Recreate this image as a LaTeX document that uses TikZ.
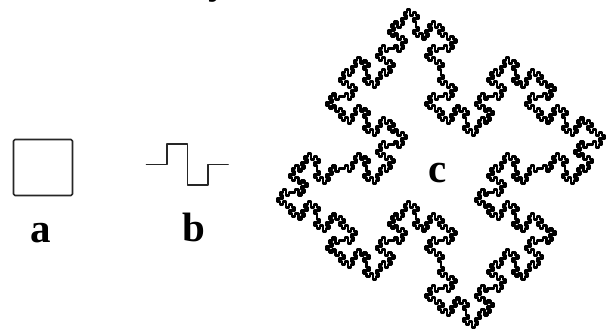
\documentclass[tikz,border=0pt]{standalone}
\usepackage{fontspec}
\setmainfont{Liberation Serif}
\newcount\mkturtx
\newcount\mkturty
\newcount\mkturtd
\newdimen\mkunitx
\newdimen\mkunity
\mkunitx=3.10pt
\mkunity=3.00pt
\def\mkL{\advance\mkturtd 1 \ifnum\mkturtd>3 \advance\mkturtd -4 \fi}
\def\mkR{\advance\mkturtd -1 \ifnum\mkturtd<0 \advance\mkturtd 4 \fi}
\def\mkstep{%
  \ifcase\mkturtd \advance\mkturtx 1 \or \advance\mkturty 1 \or \advance\mkturtx -1 \or \advance\mkturty -1 \fi
  \pgfpathlineto{\pgfpoint{\mkturtx\mkunitx}{\mkturty\mkunity}}}
\def\mkFrule#1{\mkF{#1}\mkL\mkF{#1}\mkR\mkF{#1}\mkR\mkF{#1}\mkF{#1}\mkL\mkF{#1}\mkL\mkF{#1}\mkR\mkF{#1}}
\def\mkF#1{\ifnum#1=0 \mkstep\else\expandafter\mkFrule\expandafter{\the\numexpr#1-1\relax}\fi}
\def\mkisland#1{\mkturtx=0 \mkturty=0 \mkturtd=0
  \pgfpathmoveto{\pgfpointorigin}%
  \mkF{#1}\mkL\mkF{#1}\mkL\mkF{#1}\mkL\mkF{#1}%
  \pgfpathclose}
\tikzset{
  figline/.style={line width=1.6pt, draw=black!85, line join=round, line cap=round},
  fracline/.style={line width=2.3pt, color=black, line join=round, line cap=round},
  biglabel/.style={font=\fontsize{41}{41}\selectfont\bfseries, anchor=base, inner sep=0pt}
}
\begin{document}
\begin{tikzpicture}[x=1pt,y=1pt]
\useasboundingbox (0,0) rectangle (610,335);
\clip (0,0) rectangle (610,335);
% square a
\draw[figline, rounded corners=1.5pt] (13.5,139.5) rectangle (72.5,195.5);
\node[biglabel] (la) at (40.5,93) {a};
% generator b
\draw[figline] (146.5,170.3) -- ++(20.4,0) -- ++(0,20.4) -- ++(20.4,0) -- ++(0,-40.8)
  -- ++(20.4,0) -- ++(0,20.4) -- ++(20.4,0);
\node[biglabel] (lb) at (194,94) {b};
% fractal c
\begin{scope}[fracline, shift={(341.8,70.5)}]
  \mkisland{3}
  \pgfusepath{stroke}
\end{scope}
\node[biglabel] (lc) at (438,152.4) {c};
% cut-off text from above
\node[biglabel] (ly) at (219,341) {y};
\end{tikzpicture}
\end{document}
